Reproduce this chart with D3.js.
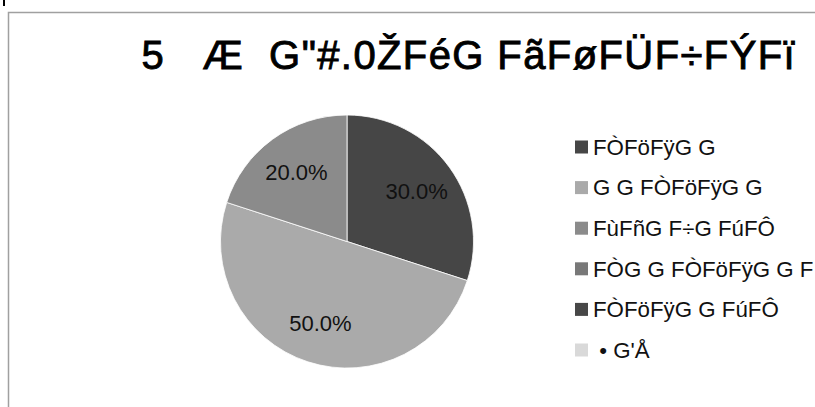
<!DOCTYPE html>
<html>
<head>
<meta charset="utf-8">
<script src="https://cdn.jsdelivr.net/npm/d3@7"></script>
<style>
  html, body { margin: 0; padding: 0; background: #fff; }
  svg { display: block; }
  text { font-family: "Liberation Sans", Arial, sans-serif; }
</style>
</head>
<body>
<svg id="chart" width="815" height="407"></svg>
<script>
// ---- data ----
const titleText = "5\u00a0\u00a0\u00a0Æ\u00a0\u00a0G\"#.0ŽFéG FãFøFÜF÷FÝFï";
const categories = [
  "FÒFöFÿG G",
  "G G FÒFöFÿG G",
  "FùFñG F÷G FúFÔ",
  "FÒG G FÒFöFÿG G F",
  "FÒFöFÿG G FúFÔ",
  "\u00a0•\u00a0G'Å"
];
const values = [30, 50, 20, 0, 0, 0];
const colors = ["#464646", "#aaaaaa", "#8b8b8b", "#787878", "#474747", "#d9d9d9"];

// ---- layout ----
const W = 815, H = 407;
const svg = d3.select("#chart");

// frame
svg.append("rect")
  .attr("x", 8.5).attr("y", 12.5)
  .attr("width", W).attr("height", H)
  .attr("fill", "#fff")
  .attr("stroke", "#a0a0a0").attr("stroke-width", 1.5);
svg.append("rect").attr("x", 3).attr("y", 0).attr("width", 2).attr("height", 6).attr("fill", "#000");

// title
svg.append("text")
  .attr("x", 141.5).attr("y", 69)
  .attr("text-anchor", "start")
  .attr("font-size", 40)
  .attr("letter-spacing", 1.4)
  .attr("fill", "#000")
  .attr("stroke", "#000")
  .attr("stroke-width", 0.9)
  .style("white-space", "pre")
  .text(titleText);

// pie
const cx = 347, cy = 241.5, R = 126.5;
const total = d3.sum(values);
const pie = d3.pie().sort(null).value(d => d)(values);
const arc = d3.arc().innerRadius(0).outerRadius(R);
const labelArc = d3.arc().innerRadius(R * 0.68).outerRadius(R * 0.68);
const color = d3.scaleOrdinal().domain(d3.range(categories.length)).range(colors);

const g = svg.append("g").attr("transform", `translate(${cx},${cy})`);
g.selectAll("path")
  .data(pie.filter(d => d.value > 0))
  .join("path")
  .attr("d", arc)
  .attr("fill", d => color(d.index))
  .attr("stroke", "#fff")
  .attr("stroke-width", 0.8);

g.selectAll("text.lbl")
  .data(pie.filter(d => d.value > 0))
  .join("text")
  .attr("class", "lbl")
  .attr("transform", d => `translate(${labelArc.centroid(d)})`)
  .attr("text-anchor", "middle")
  .attr("dy", "0.35em")
  .attr("font-size", 22)
  .attr("fill", "#111")
  .text(d => d3.format(".1%")(d.value / total));

// legend
const legY = d3.scalePoint().domain(d3.range(categories.length)).range([147, 350]);
const leg = svg.append("g");
const rows = leg.selectAll("g")
  .data(categories)
  .join("g")
  .attr("transform", (d, i) => `translate(575,${legY(i)})`);
rows.append("rect")
  .attr("x", 0).attr("y", -6.5)
  .attr("width", 13).attr("height", 13)
  .attr("fill", (d, i) => color(i));
rows.append("text")
  .attr("x", 18).attr("dy", "0.35em")
  .attr("font-size", 22.3)
  .attr("fill", "#111")
  .style("white-space", "pre")
  .text(d => d);
</script>
</body>
</html>
